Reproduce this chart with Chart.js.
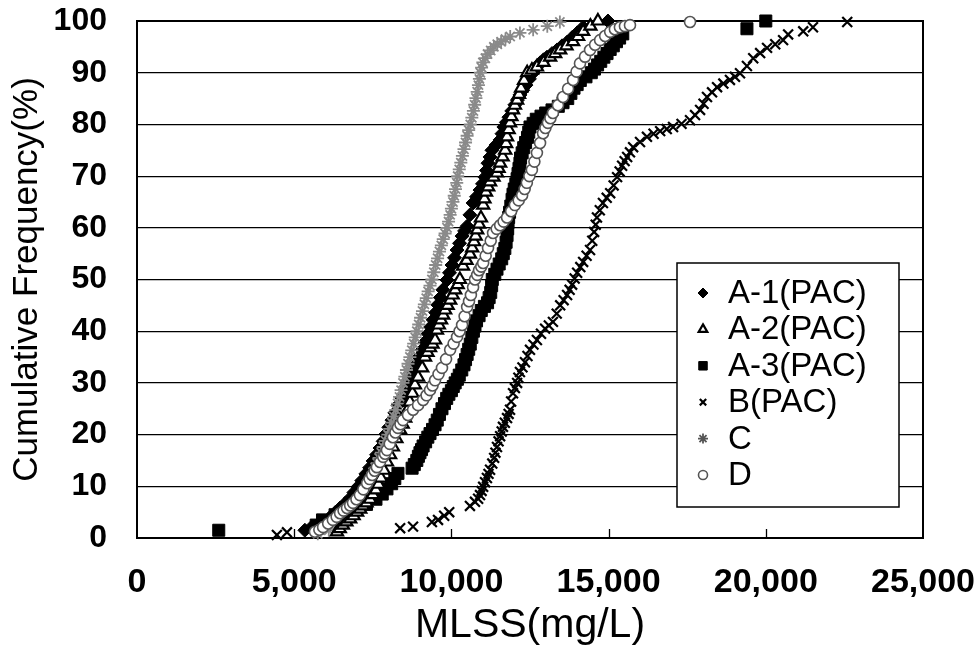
<!DOCTYPE html>
<html>
<head>
<meta charset="utf-8">
<title>MLSS Cumulative Frequency</title>
<script src="https://cdn.jsdelivr.net/npm/chart.js@4.4.1/dist/chart.umd.min.js"></script>
<style>
  html, body { margin: 0; padding: 0; background: #fff; }
  #wrap { width: 974px; height: 657px; position: relative; }
</style>
</head>
<body>
<div id="wrap"><canvas id="mlssChart"></canvas></div>
<script>
// ── Data: [MLSS (mg/L), cumulative frequency (%)] ──
const seriesNames = ['A-1(PAC)', 'A-2(PAC)', 'A-3(PAC)', 'B(PAC)', 'C', 'D'];
const xTicks = [0, 5000, 10000, 15000, 20000, 25000];
const yTicks = [0, 10, 20, 30, 40, 50, 60, 70, 80, 90, 100];

const a1Points = [
  [5340,1.5],[5550,2.1],[5760,2.7],[5950,3.3],[6140,4],[6300,4.9],[6460,5.8],[6620,6.7],[6780,7.7],
  [6900,8.8],[7030,9.9],[7150,11.1],[7280,12.4],[7400,13.6],[7510,14.9],[7620,16.1],[7730,17.4],
  [7830,18.7],[7920,20.1],[8010,21.4],[8110,22.8],[8200,24.2],[8300,25.7],[8420,27.1],[8530,28.6],
  [8600,29.6],[8680,30.6],[8780,32],[8870,33.5],[8970,35],[9070,36.4],[9160,37.9],[9260,39.5],
  [9340,40.8],[9420,42.2],[9500,43.6],[9570,45.1],[9650,46.5],[9730,48],[9860,49.9],[9940,51.3],
  [10020,52.8],[10100,54.2],[10180,55.7],[10260,57],[10340,58.4],[10420,59.4],[10500,60.3],[10590,62.5],
  [10690,64.8],[10800,66],[10910,67.3],[10990,68.5],[11070,69.8],[11120,71.1],[11165,72.5],[11230,73.7],
  [11290,75],[11420,76],[11550,77],[11610,78.2],[11670,79.5],[11750,80.4],[11830,81.4],[11920,82.6],
  [12020,83.8],[12100,84.7],[12180,85.7],[12270,86.6],[12370,87.6],[12480,88.8],[12600,90],[12710,91],
  [12820,91.9],[12930,92.5],[13040,93],[13200,93.7],[13360,94.4],[13520,95.2],[13680,95.9],[13840,96.8],
  [14000,97.7],[14190,98.8],[14980,100]
];
const a2Points = [
  [6360,1.2],[6450,1.8],[6550,2.5],[6660,3.1],[6780,3.7],[6890,4.3],[7000,5],[7100,5.6],[7190,6.2],
  [7300,6.8],[7410,7.5],[7500,8.4],[7600,9.3],[7680,10.4],[7760,11.6],[7850,13.1],[7950,14.7],
  [8050,16.1],[8140,17.6],[8250,19.2],[8370,20.9],[8450,22],[8530,23.2],[8600,24.7],[8680,26.3],
  [8760,28],[8840,29.6],[8940,31.1],[9070,32.9],[9160,35],[9240,35.9],[9320,36.8],[9400,37.5],
  [9480,38.3],[9540,40.2],[9600,41.2],[9670,42.2],[9740,43.1],[9800,44.1],[9880,45],[9960,46],
  [10040,47],[10120,48],[10200,49],[10270,50],[10370,52.6],[10480,53.7],[10590,54.9],[10660,56.1],
  [10720,57.3],[10770,58.4],[10820,59.6],[10880,60.7],[10940,61.9],[11010,64.4],[11050,65.6],[11100,66.9],
  [11170,67.9],[11230,68.9],[11340,69.8],[11450,70.6],[11500,71.5],[11550,72.5],[11630,73.7],[11710,75],
  [11740,76.3],[11770,77.6],[11820,79],[11865,80.3],[11910,81.5],[11960,82.8],[12020,83.7],[12090,84.7],
  [12150,85.8],[12215,87],[12310,88.5],[12410,90],[12560,90.5],[12720,91.1],[12930,92],[13140,93],
  [13300,93.7],[13460,94.4],[13660,95.2],[13870,96],[14030,97],[14190,98],[14420,99],[14660,100]
];
const a3Points = [
  [2600,1.5],[5700,2.5],[5900,3.5],[6300,4.5],[6800,5.5],[7300,6.5],[7600,7.5],[7800,8.5],
  [7950,9.5],[8100,10.5],[8200,11.5],[8300,12.5],[8750,13.5],[8820,14.2],[8900,15],[8950,15.8],
  [9000,16.5],[9050,17.1],[9100,17.8],[9180,18.6],[9250,19.5],[9320,20.2],[9400,21],[9480,21.9],
  [9550,22.8],[9620,23.9],[9700,25],[9780,26],[9850,27],[9920,27.8],[10000,28.5],[10060,29.3],
  [10120,30],[10190,30.7],[10250,31.5],[10330,32.5],[10400,33.5],[10450,34.5],[10500,35.5],[10550,36.5],
  [10600,37.5],[10650,38.8],[10700,40],[10750,41],[10800,42],[10880,43],[10950,44],[11050,44.8],
  [11150,45.5],[11200,46.5],[11250,47.5],[11280,48.8],[11300,50],[11380,51],[11450,52],[11520,53],
  [11600,54],[11650,55],[11700,56],[11740,57.2],[11770,58.5],[11790,59.8],[11800,61],[11820,62],
  [11850,63],[11890,64.2],[11930,65.5],[11960,66.5],[12000,67.5],[12050,68.5],[12090,69.5],[12120,70.5],
  [12150,71.5],[12180,72.5],[12200,73.5],[12250,74.5],[12300,75.5],[12360,76.5],[12420,77.5],[12460,78.5],
  [12500,79.5],[12600,80.2],[12700,81],[12850,81.6],[13000,82.2],[13200,82.8],[13400,83.5],[13550,84.2],
  [13700,85],[13800,86],[13900,87],[14000,87.7],[14100,88.5],[14280,89.2],[14450,90],[14550,90.7],
  [14650,91.5],[14750,92.2],[14850,93],[14950,93.7],[15050,94.5],[15150,95.2],[15250,96],[15350,96.7],
  [15450,97.5],[19400,98.5],[20000,100]
];
const bPoints = [
  [4450,0.6],[4770,1.1],[8370,1.9],[8780,2.2],[9380,3.1],[9575,3.5],[9770,4.3],[9930,5],
  [10590,6.2],[10750,7],[10850,7.6],[10910,8.3],[10960,9.1],[11010,9.9],[11070,10.8],[11130,11.6],
  [11180,12.4],[11230,13.2],[11300,14.4],[11360,15.5],[11400,16.5],[11450,17.6],[11500,18.7],[11550,19.7],
  [11600,20.6],[11640,21.5],[11700,22.3],[11770,23.2],[11820,24],[11865,24.8],[11900,26.4],[11960,28],
  [12020,29],[12090,30],[12130,31],[12180,32.1],[12260,33],[12340,34],[12420,35.2],[12500,36.4],
  [12610,37.4],[12720,38.3],[12850,39.5],[12980,40.5],[13100,41.1],[13230,41.8],[13350,43.4],[13460,45],
  [13570,46],[13680,47],[13760,48],[13840,49],[13920,50.2],[14000,51.3],[14100,52.4],[14190,53.4],
  [14300,54.6],[14410,55.7],[14480,57.5],[14540,59.2],[14590,60.6],[14630,62],[14720,63.4],[14820,64.8],
  [14940,65.8],[15050,66.7],[15160,68.2],[15270,69.8],[15350,70.9],[15430,72],[15510,72.9],[15590,73.7],
  [15680,74.6],[15780,75.6],[16000,76.6],[16220,77.6],[16430,78.2],[16640,78.7],[16850,79.1],[17050,79.5],
  [17320,80.1],[17590,80.8],[17750,81.8],[17910,82.8],[18020,84],[18130,85.3],[18290,86.2],[18450,87.2],
  [18650,87.9],[18860,88.6],[19020,89.2],[19180,89.9],[19400,91.3],[19600,92.8],[19820,93.8],[20040,94.8],
  [20300,95.5],[20550,96.3],[20710,97.4],[21190,98],[21500,98.8],[22590,99.8]
];
const cPoints = [
  [5750,0.8],[6100,1.5],[6360,2.5],[6550,3.5],[6750,4.5],[6900,5.5],[7050,6.8],[7130,7.5],[7200,8.2],
  [7260,9.1],[7320,10],[7390,10.9],[7450,11.8],[7510,12.7],[7580,13.6],[7640,14.5],[7700,15.5],
  [7770,16.5],[7830,17.6],[7900,18.8],[7980,20],[8040,21.1],[8100,22.3],[8170,23.5],[8230,24.8],
  [8290,26],[8350,27.3],[8400,28.6],[8460,30],[8520,31.2],[8570,32.5],[8620,33.7],[8680,35],
  [8740,36.3],[8800,37.6],[8850,38.8],[8900,40],[8960,41.3],[9020,42.6],[9080,43.9],[9140,45.2],
  [9200,46.4],[9260,47.7],[9320,48.8],[9380,50],[9440,51.4],[9500,52.8],[9560,54.1],[9620,55.4],
  [9680,56.6],[9740,57.8],[9800,58.9],[9860,60],[9910,61.2],[9960,62.5],[10000,63.7],[10050,65],
  [10090,66.2],[10130,67.5],[10170,68.7],[10200,70],[10250,71.3],[10300,72.6],[10350,73.9],[10400,75.2],
  [10450,76.5],[10500,77.8],[10550,78.9],[10600,80],[10650,81.3],[10700,82.6],[10740,83.8],[10780,85.1],
  [10820,86.3],[10860,87.6],[10890,88.8],[10920,90],[10960,91],[11000,92],[11080,92.8],[11150,93.6],
  [11250,94.3],[11350,95],[11460,95.5],[11580,96],[11720,96.5],[11870,97],[12180,97.7],[12600,98.3],
  [13050,99],[13450,99.8]
];
const dPoints = [
  [5660,1.2],[5800,1.6],[5920,2.1],[6080,2.8],[6230,3.5],[6350,4.1],[6460,4.8],[6570,5.3],[6680,5.8],
  [6780,6.3],[6870,6.8],[6980,7.5],[7090,8.3],[7200,9.4],[7320,10.6],[7400,11.4],[7480,12.2],
  [7560,13],[7630,13.7],[7730,14.7],[7830,15.7],[7890,16.3],[7950,17],[8040,18.2],[8140,19.5],
  [8220,20.4],[8300,21.3],[8380,22],[8460,22.8],[8620,23.8],[8780,24.8],[8940,25.7],[9100,26.7],
  [9210,27.6],[9320,28.6],[9400,29.5],[9480,30.5],[9590,31.7],[9700,32.9],[9830,34.6],[9960,36.4],
  [10070,37.6],[10180,38.9],[10260,40],[10340,41.2],[10420,42.9],[10500,44.7],[10560,45.8],[10620,47],
  [10690,48.5],[10750,50],[10820,50.9],[10880,51.8],[10950,52.5],[11010,53.2],[11090,54.6],[11165,56.1],
  [11250,57.5],[11325,59],[11440,59.8],[11550,60.5],[11660,61.2],[11770,62],[11900,63.2],[12020,64.4],
  [12140,65.3],[12250,66.3],[12330,67.5],[12400,68.7],[12480,70],[12560,71.2],[12640,72.8],[12720,74.5],
  [12820,76.4],[12915,78.3],[12990,79.3],[13070,80.3],[13150,81.2],[13230,82.2],[13390,83.7],[13550,85.3],
  [13710,86.9],[13870,88.6],[13980,90.2],[14090,91.8],[14250,93.1],[14410,94.4],[14570,95.4],[14730,96.3],
  [14890,97.1],[15050,97.9],[15200,98.4],[15360,98.8],[15520,99],[15680,99.2],[17590,99.8]
];

// ── Styles ──
const FONT = "'Liberation Sans', Arial, sans-serif";
const NARROW = "'Liberation Sans Narrow', 'Liberation Sans', Arial, sans-serif";

const toXY = pts => pts.map(p => ({ x: p[0], y: p[1] }));

const datasets = [
  { label: seriesNames[0], data: toXY(a1Points), pointStyle: 'rectRot', pointRadius: 7,
    backgroundColor: '#000', borderColor: '#000', pointBorderWidth: 1, order: 5 },
  { label: seriesNames[1], data: toXY(a2Points), pointStyle: 'triangle', pointRadius: 7,
    backgroundColor: '#fff', borderColor: '#000', pointBorderWidth: 2.2, order: 2 },
  { label: seriesNames[2], data: toXY(a3Points), pointStyle: 'rect', pointRadius: 8.5,
    backgroundColor: '#000', borderColor: '#000', pointBorderWidth: 1, order: 6 },
  { label: seriesNames[3], data: toXY(bPoints), pointStyle: 'crossRot', pointRadius: 7,
    backgroundColor: '#000', borderColor: '#000', pointBorderWidth: 2.2, order: 4 },
  { label: seriesNames[4], data: toXY(cPoints), pointStyle: 'star', pointRadius: 6.5,
    backgroundColor: '#8a8a8a', borderColor: '#8a8a8a', pointBorderWidth: 1.8, order: 3 },
  { label: seriesNames[5], data: toXY(dPoints), pointStyle: 'circle', pointRadius: 5.5,
    backgroundColor: '#fff', borderColor: '#555', pointBorderWidth: 1.6, order: 1 }
];
datasets.forEach(d => { d.showLine = false; d.clip = false; d.pointHoverRadius = d.pointRadius; });

// Plot frame + short inner tick marks on the x axis
const framePlugin = {
  id: 'plotFrame',
  beforeDatasetsDraw(chart) {
    const { ctx, chartArea: a, scales } = chart;
    ctx.save();
    ctx.strokeStyle = '#000';
    ctx.lineWidth = 1.3;
    xTicks.slice(1, -1).forEach(v => {
      const px = Math.round(scales.x.getPixelForValue(v)) + 0.5;
      ctx.beginPath();
      ctx.moveTo(px, a.bottom);
      ctx.lineTo(px, a.bottom - 9);
      ctx.stroke();
    });
    ctx.lineWidth = 2;
    ctx.strokeRect(a.left, a.top, a.right - a.left, a.bottom - a.top);
    ctx.restore();
  }
};

// Boxed legend inside the plot, lower right
const boxLegendPlugin = {
  id: 'boxLegend',
  afterDraw(chart) {
    const { ctx, chartArea: a } = chart;
    const boxW = 222, boxH = 244;
    const bx = a.right - 24 - boxW;
    const by = a.bottom - 31 - boxH;
    ctx.save();
    ctx.fillStyle = '#fff';
    ctx.fillRect(bx, by, boxW, boxH);
    ctx.strokeStyle = '#000';
    ctx.lineWidth = 1.5;
    ctx.strokeRect(bx, by, boxW, boxH);

    const markerSizes = [5, 5, 6, 4.5, 5, 4.5];
    ctx.font = '33px ' + FONT;
    ctx.textBaseline = 'middle';
    ctx.textAlign = 'left';
    chart.data.datasets.forEach((ds, i) => {
      const cy = by + 30 + i * 36.4;
      const mx = bx + 26;
      ctx.fillStyle = ds.label === 'C' ? '#555' : ds.backgroundColor;
      ctx.strokeStyle = ds.label === 'C' ? '#555' : ds.borderColor;
      ctx.lineWidth = ds.pointBorderWidth;
      if (Chart.helpers && Chart.helpers.drawPoint) {
        Chart.helpers.drawPoint(ctx, {
          pointStyle: ds.pointStyle, radius: markerSizes[i], rotation: 0,
          borderWidth: Math.min(ds.pointBorderWidth, 1.5)
        }, mx, cy);
      } else {
        ctx.beginPath();
        ctx.arc(mx, cy, markerSizes[i], 0, Math.PI * 2);
        ctx.fill();
        ctx.stroke();
      }
      ctx.fillStyle = '#000';
      ctx.fillText(ds.label, bx + 51, cy + 1);
    });
    ctx.restore();
  }
};

new Chart(document.getElementById('mlssChart'), {
  type: 'scatter',
  data: { datasets },
  plugins: [framePlugin, boxLegendPlugin],
  options: {
    responsive: true,
    maintainAspectRatio: false,
    devicePixelRatio: 1,
    animation: false,
    layout: { padding: { top: 21, right: 51, bottom: 0, left: 0 } },
    plugins: {
      legend: { display: false },
      tooltip: { enabled: false }
    },
    scales: {
      x: {
        type: 'linear',
        min: 0,
        max: 25000,
        afterBuildTicks(scale) { scale.ticks = xTicks.map(v => ({ value: v })); },
        afterFit(scale) {
          scale.height = 119;
          scale.paddingLeft = 0;
          scale.paddingRight = 0;
        },
        grid: { display: false },
        border: { display: false },
        ticks: {
          autoSkip: false,
          maxRotation: 0,
          padding: 16,
          color: '#000',
          font: { family: NARROW, size: 34, weight: 'bold' },
          callback(value) { return value.toLocaleString('en-US'); }
        },
        title: {
          display: true,
          text: 'MLSS(mg/L)',
          color: '#000',
          font: { family: FONT, size: 41 },
          padding: { top: 0, bottom: 7 }
        }
      },
      y: {
        min: 0,
        max: 100,
        afterBuildTicks(scale) { scale.ticks = yTicks.map(v => ({ value: v })); },
        afterFit(scale) {
          scale.width = 137;
          scale.paddingTop = 0;
          scale.paddingBottom = 0;
        },
        grid: { color: '#000', lineWidth: 1.2, drawTicks: false },
        border: { display: false },
        ticks: {
          padding: 30,
          color: '#000',
          font: { family: FONT, size: 32, weight: 'bold' }
        },
        title: {
          display: true,
          text: 'Cumulative Frequency(%)',
          color: '#000',
          font: { family: FONT, size: 35 },
          padding: { top: 6, bottom: 0 }
        }
      }
    }
  }
});
</script>
</body>
</html>
